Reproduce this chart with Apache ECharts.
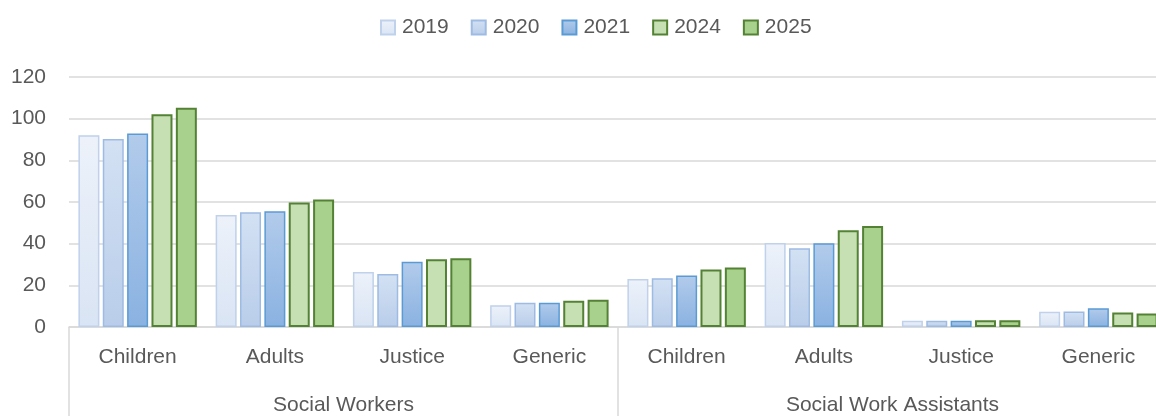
<!DOCTYPE html>
<html>
<head>
<meta charset="utf-8">
<script src="https://cdn.jsdelivr.net/npm/echarts@6/dist/echarts.min.js"></script>
<style>
  html, body { margin: 0; padding: 0; background: #fff; overflow: hidden; }
  /* plot area runs a little past the right edge of the picture */
  #chart { width: 1167px; height: 416px; }
</style>
</head>
<body>
<div id="chart"></div>
<script>
  // sub categories and groups
  var roles = ['Children', 'Adults', 'Justice', 'Generic', 'Children', 'Adults', 'Justice', 'Generic'];
  var groups = ['Social Workers', 'Social Work Assistants'];
  var years = ['2019', '2020', '2021', '2024', '2025'];

  var v2019 = [92, 53.8, 26.4, 10.4, 23.1, 40.3, 3.0, 7.3];
  var v2020 = [90.3, 55.1, 25.5, 11.6, 23.4, 37.8, 3.0, 7.4];
  var v2021 = [92.9, 55.6, 31.3, 11.6, 24.7, 40.2, 3.0, 9.0];
  var v2024 = [102.1, 59.8, 32.5, 12.6, 27.6, 46.4, 3.2, 7.0];
  var v2025 = [105.2, 61.2, 33.0, 13.1, 28.6, 48.5, 3.2, 6.5];

  var font = 'Liberation Sans';
  var textColor = '#595959';
  var gridColor = '#d9d9d9';

  function grad(top, bottom) {
    return new echarts.graphic.LinearGradient(0, 0, 0, 1, [
      {offset: 0, color: top},
      {offset: 1, color: bottom}
    ]);
  }

  var styles = [
    {fill: grad('#edf2fa', '#d9e4f4'), border: '#bfd1eb', bw: 1.5},
    {fill: grad('#d3e1f3', '#b9cdea'), border: '#9ebbe3', bw: 1.5},
    {fill: grad('#b2cbeb', '#8ab2e1'), border: '#5b9bd5', bw: 1.5},
    {fill: '#c6e0b4', border: '#548235', bw: 2},
    {fill: '#a9d18e', border: '#548235', bw: 2}
  ];
  var values = [v2019, v2020, v2021, v2024, v2025];

  var chart = echarts.init(document.getElementById('chart'));

  var series = years.map(function (y, i) {
    return {
      name: y,
      type: 'bar',
      data: values[i],
      barWidth: 21,
      barGap: '16%',
      itemStyle: {
        color: styles[i].fill,
        borderColor: styles[i].border,
        borderWidth: styles[i].bw
      }
    };
  });

  var option = {
    animation: false,
    textStyle: {fontFamily: font},
    legend: {
      left: 375,
      top: 12,
      itemWidth: 14,
      itemHeight: 14,
      itemGap: 22,
      icon: 'rect',
      textStyle: {fontSize: 21, color: textColor, fontFamily: font, padding: [0, 0, 0, 2]},
      data: years
    },
    grid: {
      left: 69,
      right: 0,
      top: 77,
      bottom: 88,
      containLabel: false
    },
    xAxis: [
      {
        type: 'category',
        data: roles,
        axisLine: {show: true, lineStyle: {color: gridColor, width: 1.5}},
        axisTick: {show: false},
        axisLabel: {margin: 20, fontSize: 21, color: textColor, fontFamily: font}
      },
      {
        type: 'category',
        data: groups,
        position: 'bottom',
        axisLine: {show: false},
        axisTick: {show: true, length: 90, lineStyle: {color: gridColor, width: 1.5}},
        axisLabel: {margin: 68, fontSize: 21, color: textColor, fontFamily: font}
      }
    ],
    yAxis: {
      type: 'value',
      min: 0,
      max: 120,
      interval: 20,
      axisLine: {show: false},
      axisTick: {show: false},
      splitLine: {lineStyle: {color: gridColor, width: 1.5}},
      axisLabel: {margin: 23, fontSize: 21, color: textColor, fontFamily: font}
    },
    series: series
  };

  chart.setOption(option);
</script>
</body>
</html>
